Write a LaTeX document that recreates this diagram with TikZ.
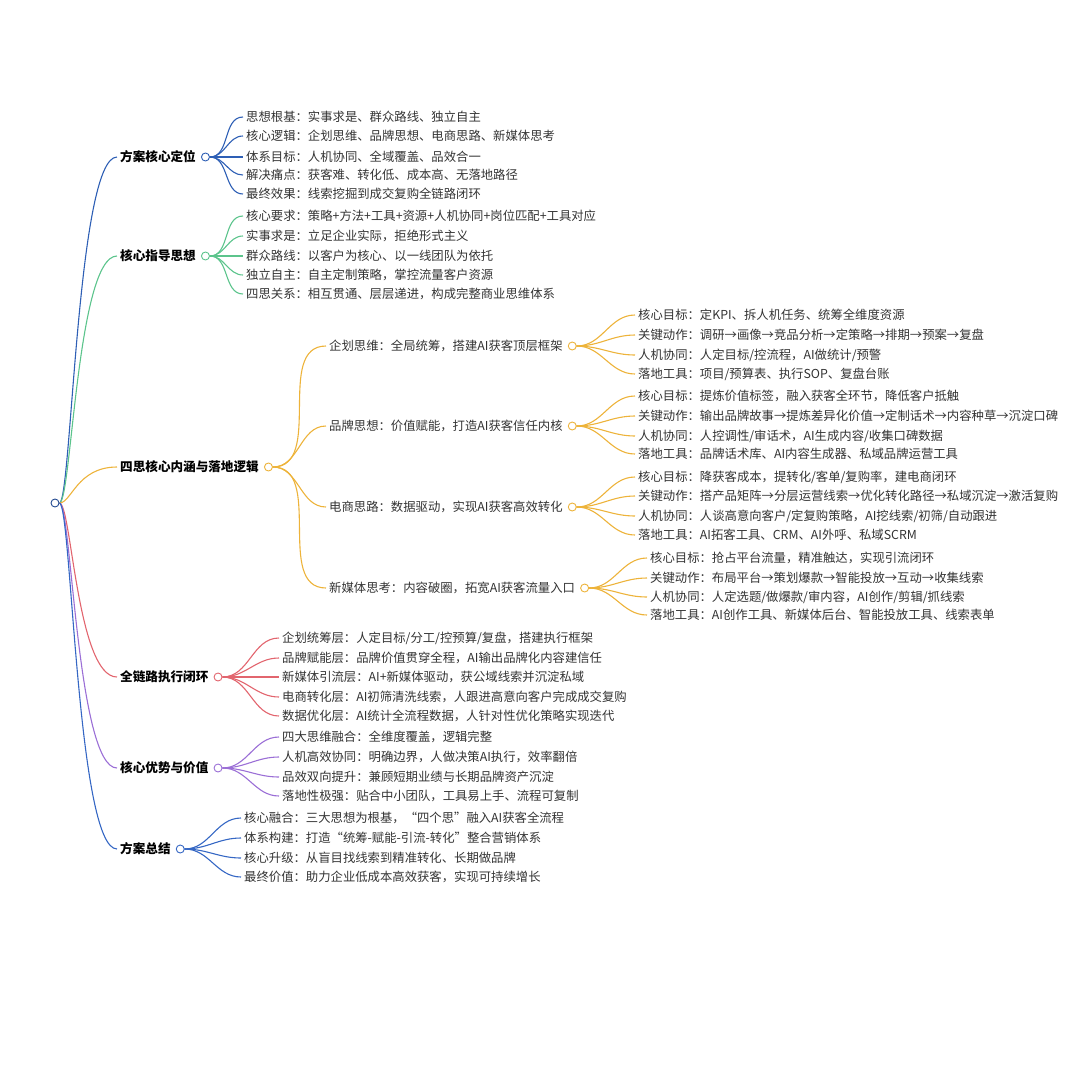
\documentclass[tikz,border=0pt]{standalone}
\usepackage{fontspec}
\setmainfont{Noto Sans CJK SC}
\usetikzlibrary{positioning,calc}
\definecolor{cA}{HTML}{2E5FB5}
\definecolor{cB}{HTML}{5CC48C}
\definecolor{cC}{HTML}{EDB33A}
\definecolor{cD}{HTML}{E2656E}
\definecolor{cE}{HTML}{9B6FD6}
\definecolor{cF}{HTML}{3567C4}
\definecolor{tx}{HTML}{333333}
\tikzset{
 leaf/.style={anchor=west,inner xsep=3pt,inner ysep=0pt,font=\fontsize{12.35}{14}\selectfont,text=tx},
 br/.style={anchor=west,inner xsep=3pt,inner ysep=0pt,font=\fontsize{12.6}{14}\selectfont\bfseries,text=black},
 dot/.style={circle,draw,fill=white,minimum size=8pt,inner sep=0pt,line width=0.9pt},
 conn/.style={line width=1.1pt}
}
\newcommand\lf[6]{\node[leaf] (#1) at (#4,#3) {#6};
 \draw[conn,#5] (#2.east) to[out=0,in=180] (#1.west);}
\begin{document}
\begin{tikzpicture}[x=1pt,y=-1pt]
\useasboundingbox (0,0) rectangle (1080,1080);
\node[dot,draw=cA!80!black] (root) at (55,503) {};
% branches
\node[br] (b1) at (117,157) {方案核心定位};
\node[br] (b2) at (117,256) {核心指导思想};
\node[br] (b3) at (117,467) {四思核心内涵与落地逻辑};
\node[br] (b4) at (117,677) {全链路执行闭环};
\node[br] (b5) at (117,768) {核心优势与价值};
\node[br] (b6) at (117,849) {方案总结};
\foreach \i/\c in {1/cA,2/cB,3/cC,4/cD,5/cE,6/cF}{
 \node[dot,draw=\c,right=2pt of b\i] (d\i) {};
 \draw[conn,\c] (root.east) .. controls ($(root.east)+(12,0)$) and ($(b\i.west)+(-40,0)$) .. (b\i.west);
}
% section 1
\lf{a1}{d1}{117}{243}{cA}{思想根基：实事求是、群众路线、独立自主}
\lf{a2}{d1}{136}{243}{cA}{核心逻辑：企划思维、品牌思想、电商思路、新媒体思考}
\lf{a3}{d1}{157}{243}{cA}{体系目标：人机协同、全域覆盖、品效合一}
\lf{a4}{d1}{175}{243}{cA}{解决痛点：获客难、转化低、成本高、无落地路径}
\lf{a5}{d1}{194}{243}{cA}{最终效果：线索挖掘到成交复购全链路闭环}
% section 2
\lf{g1}{d2}{216}{243}{cB}{核心要求：策略+方法+工具+资源+人机协同+岗位匹配+工具对应}
\lf{g2}{d2}{236}{243}{cB}{实事求是：立足企业实际，拒绝形式主义}
\lf{g3}{d2}{256}{243}{cB}{群众路线：以客户为核心、以一线团队为依托}
\lf{g4}{d2}{275}{243}{cB}{独立自主：自主定制策略，掌控流量客户资源}
\lf{g5}{d2}{294}{243}{cB}{四思关系：相互贯通、层层递进，构成完整商业思维体系}
% section 3
\lf{s1}{d3}{346}{326}{cC}{企划思维：全局统筹，搭建AI获客顶层框架}
\lf{s2}{d3}{426}{326}{cC}{品牌思想：价值赋能，打造AI获客信任内核}
\lf{s3}{d3}{507}{326}{cC}{电商思路：数据驱动，实现AI获客高效转化}
\lf{s4}{d3}{588}{326}{cC}{新媒体思考：内容破圈，拓宽AI获客流量入口}
\foreach \i in {1,2,3,4}{\node[dot,draw=cC,right=2pt of s\i] (e\i) {};}
\lf{p1}{e1}{315}{635}{cC}{核心目标：定KPI、拆人机任务、统筹全维度资源}
\lf{p2}{e1}{335}{635}{cC}{关键动作：调研→画像→竞品分析→定策略→排期→预案→复盘}
\lf{p3}{e1}{355}{635}{cC}{人机协同：人定目标/控流程，AI做统计/预警}
\lf{p4}{e1}{374}{635}{cC}{落地工具：项目/预算表、执行SOP、复盘台账}
\lf{q1}{e2}{396}{635}{cC}{核心目标：提炼价值标签，融入获客全环节，降低客户抵触}
\lf{q2}{e2}{416}{635}{cC}{关键动作：输出品牌故事→提炼差异化价值→定制话术→内容种草→沉淀口碑}
\lf{q3}{e2}{436}{635}{cC}{人机协同：人控调性/审话术，AI生成内容/收集口碑数据}
\lf{q4}{e2}{454}{635}{cC}{落地工具：品牌话术库、AI内容生成器、私域品牌运营工具}
\lf{r1}{e3}{477}{635}{cC}{核心目标：降获客成本，提转化/客单/复购率，建电商闭环}
\lf{r2}{e3}{496}{635}{cC}{关键动作：搭产品矩阵→分层运营线索→优化转化路径→私域沉淀→激活复购}
\lf{r3}{e3}{516}{635}{cC}{人机协同：人谈高意向客户/定复购策略，AI挖线索/初筛/自动跟进}
\lf{r4}{e3}{535}{635}{cC}{落地工具：AI拓客工具、CRM、AI外呼、私域SCRM}
\lf{t1}{e4}{558}{647}{cC}{核心目标：抢占平台流量，精准触达，实现引流闭环}
\lf{t2}{e4}{578}{647}{cC}{关键动作：布局平台→策划爆款→智能投放→互动→收集线索}
\lf{t3}{e4}{597}{647}{cC}{人机协同：人定选题/做爆款/审内容，AI创作/剪辑/抓线索}
\lf{t4}{e4}{615}{647}{cC}{落地工具：AI创作工具、新媒体后台、智能投放工具、线索表单}
% section 4
\lf{h1}{d4}{638}{279}{cD}{企划统筹层：人定目标/分工/控预算/复盘，搭建执行框架}
\lf{h2}{d4}{658}{279}{cD}{品牌赋能层：品牌价值贯穿全程，AI输出品牌化内容建信任}
\lf{h3}{d4}{677}{279}{cD}{新媒体引流层：AI+新媒体驱动，获公域线索并沉淀私域}
\lf{h4}{d4}{697}{279}{cD}{电商转化层：AI初筛清洗线索，人跟进高意向客户完成成交复购}
\lf{h5}{d4}{716}{279}{cD}{数据优化层：AI统计全流程数据，人针对性优化策略实现迭代}
% section 5
\lf{k1}{d5}{737}{279}{cE}{四大思维融合：全维度覆盖，逻辑完整}
\lf{k2}{d5}{757}{279}{cE}{人机高效协同：明确边界，人做决策AI执行，效率翻倍}
\lf{k3}{d5}{777}{279}{cE}{品效双向提升：兼顾短期业绩与长期品牌资产沉淀}
\lf{k4}{d5}{796}{279}{cE}{落地性极强：贴合中小团队，工具易上手、流程可复制}
% section 6
\lf{m1}{d6}{818}{241}{cF}{核心融合：三大思想为根基，“四个思”融入AI获客全流程}
\lf{m2}{d6}{838}{241}{cF}{体系构建：打造“统筹-赋能-引流-转化”整合营销体系}
\lf{m3}{d6}{858}{241}{cF}{核心升级：从盲目找线索到精准转化、长期做品牌}
\lf{m4}{d6}{877}{241}{cF}{最终价值：助力企业低成本高效获客，实现可持续增长}
\end{tikzpicture}
\end{document}
